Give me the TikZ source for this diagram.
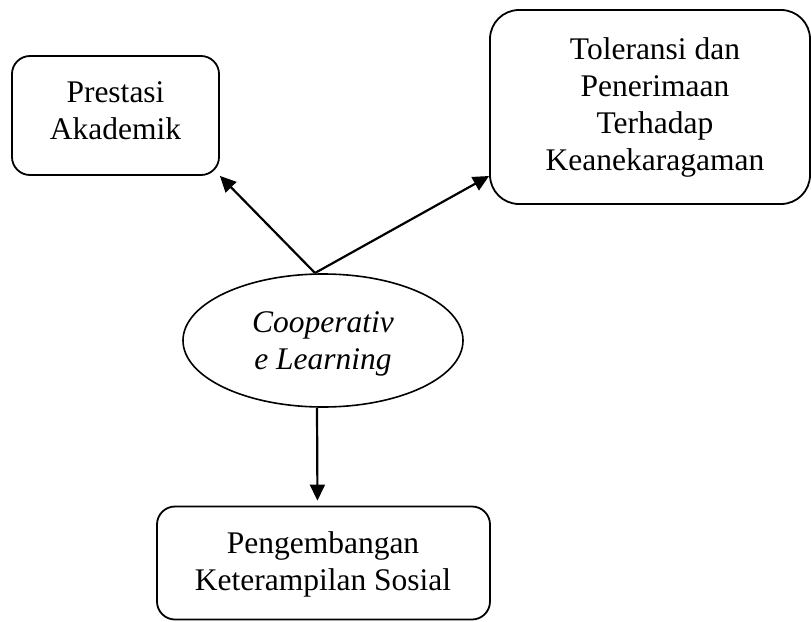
\documentclass[tikz,border=0pt]{standalone}
\usepackage{fontspec}
\setmainfont{Liberation Serif}
\usetikzlibrary{arrows.meta,shapes.geometric}
\begin{document}
\begin{tikzpicture}[x=1pt,y=-1pt,
  txt/.style={font=\fontsize{31.5}{37}\selectfont, align=center, inner sep=0pt},
  rbox/.style={draw, line width=1.8pt, inner sep=0pt},
  conn/.style={line width=2.2pt, -{Triangle[length=16pt,width=15pt]}}]
\useasboundingbox (0,0) rectangle (811,621);
% boxes
\node[rbox, rounded corners=18pt, minimum width=207pt, minimum height=119pt] (box1) at (115.5,115.5) {};
\node[rbox, rounded corners=29pt, minimum width=320pt, minimum height=194pt] (box2) at (650,107) {};
\node[rbox, rounded corners=18pt, minimum width=333pt, minimum height=113pt] (box3) at (323.5,563) {};
\node[draw, ellipse, line width=1.6pt, inner sep=0pt, minimum width=280pt, minimum height=133pt] (ell) at (323,340.5) {};
% texts
\node[txt] (t1) at (115.5,110.3) {Prestasi\\Akademik};
\node[txt] (t2) at (655,107.7) {Toleransi dan\\Penerimaan\\Terhadap\\Keanekaragaman};
\node[txt] (t3) at (323,564.2) {Pengembangan\\Keterampilan Sosial};
\node[txt, font=\fontsize{31.5}{37}\selectfont\itshape] (t4) at (323,344.2) {Cooperativ\\e Learning};
% connectors
\coordinate (src) at (315,273);
\draw[conn] (src) -- (box1.south east);
\draw[conn] (src) -- ([yshift=-69pt]box2.west);
\draw[conn, shorten >=5pt] ([xshift=-6pt]ell.south) -- ([xshift=-6pt]box3.north);
\end{tikzpicture}
\end{document}
